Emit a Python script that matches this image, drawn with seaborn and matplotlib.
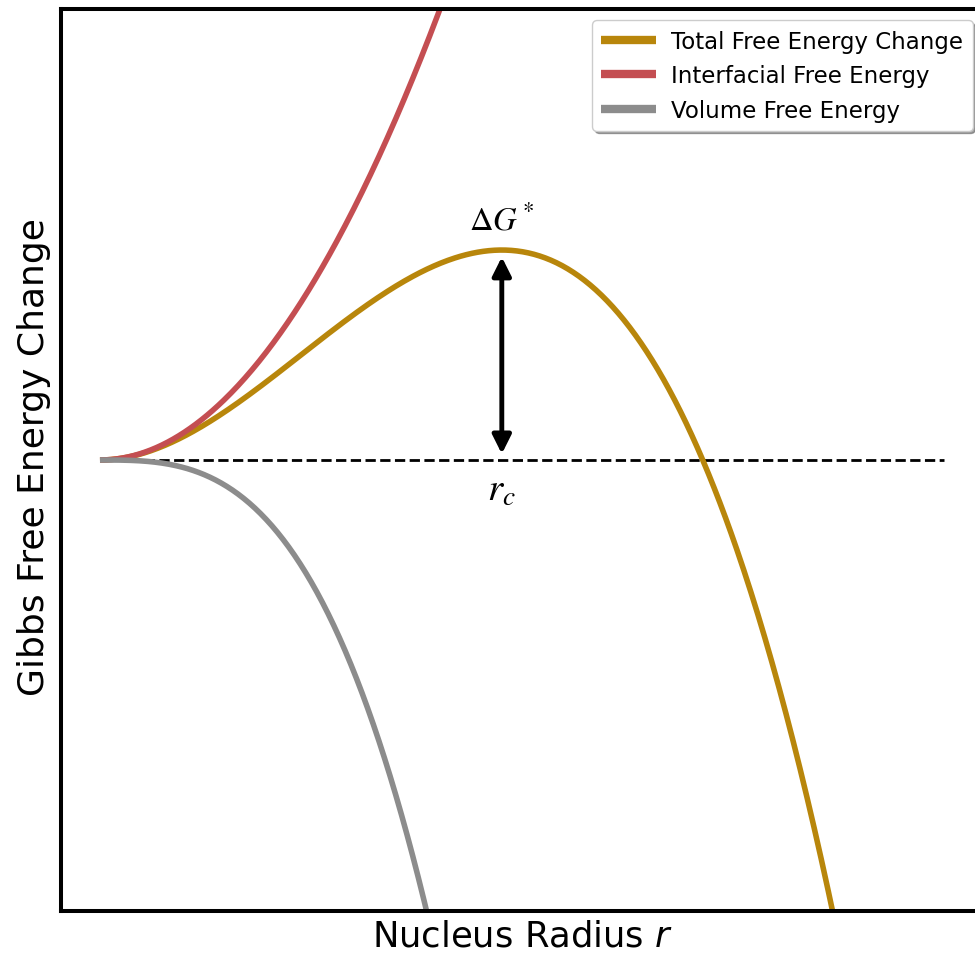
import numpy as np
import pandas as pd
import matplotlib
matplotlib.use("Agg")
import matplotlib.pyplot as plt
import seaborn as sns

# Classical nucleation: dimensionless radius r (critical radius r_c = 1)
r_min, r_max, n_pts = 0.0, 2.1, 600
surface_coeff = 3.0      # interfacial term  ~  + r^2
bulk_coeff = 2.0         # bulk term in the total  ~  - r^3
volume_curve_coeff = 4.0 # plotted volume contribution ~ - r^3
r_crit = 1.0
dG_star = 1.0

series_names = ["Total Free Energy Change", "Interfacial Free Energy", "Volume Free Energy"]
series_colors = ["#B8860B", "#C44E52", "#8C8C8C"]

r = np.linspace(r_min, r_max, n_pts)
interfacial = surface_coeff * r**2
volume = -volume_curve_coeff * r**3
total = surface_coeff * r**2 - bulk_coeff * r**3

df = pd.DataFrame({"r": r, series_names[0]: total,
                   series_names[1]: interfacial, series_names[2]: volume})

sns.set_style("white")
plt.rcParams["font.family"] = ["DejaVu Sans"]
plt.rcParams["mathtext.fontset"] = "stix"
plt.rcParams["text.color"] = "black"
plt.rcParams["axes.labelcolor"] = "black"
plt.rcParams["legend.labelcolor"] = "black"

fig = plt.figure(figsize=(9.75, 9.54), dpi=100)
ax = fig.add_axes([61 / 975, 42 / 954, 923 / 975, 902 / 954])

# zero reference line
ax.plot([r_min, r_max], [0, 0], color="black", lw=2, ls="--", zorder=1)

for name, color in zip(series_names, series_colors):
    sns.lineplot(data=df, x="r", y=name, color=color, lw=4, label=name, ax=ax,
                 zorder=2, solid_capstyle="butt")

# barrier height arrow at the critical radius
ax.annotate("", xy=(r_crit, dG_star - 0.033), xytext=(r_crit, 0.029),
            arrowprops=dict(arrowstyle="<|-|>", color="black", lw=3.5,
                            mutation_scale=28, shrinkA=0, shrinkB=0), zorder=3)
ax.text(r_crit, dG_star + 0.148, r"$\Delta G^*$", fontsize=23.5, ha="center", va="center")
ax.text(r_crit, -0.14, r"$r_c$", fontsize=28, ha="center", va="center")

ax.set_xlim(-0.097, 2.2)
ax.set_ylim(-2.148, 2.148)
ax.set_xticks([])
ax.set_yticks([])
ax.set_xlabel(r"Nucleus Radius $r$", fontsize=25.5, math_fontfamily="dejavusans")
ax.set_ylabel("Gibbs Free Energy Change", fontsize=26)
ax.xaxis.set_label_coords(0.5, -0.0385)
ax.xaxis.label.set_va("baseline")
ax.yaxis.set_label_coords(-0.0108, 0.504)

for sp in ax.spines.values():
    sp.set_visible(True)
    sp.set_color("black")
    sp.set_linewidth(2.9)

leg = ax.legend(loc="upper right", fontsize=16.5, shadow=True, handlelength=2.4,
                handletextpad=0.65, borderaxespad=0.5)
for ln in leg.get_lines():
    ln.set_linewidth(6)
    ln.set_solid_capstyle("butt")

fig.savefig("out.png", dpi=100)
